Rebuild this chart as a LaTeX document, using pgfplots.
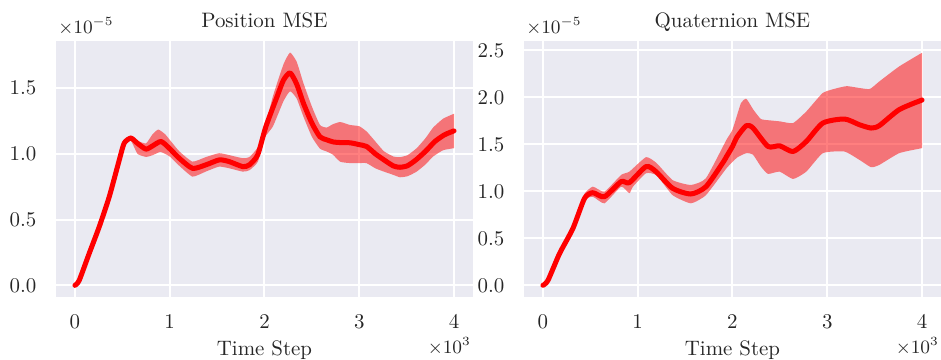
\documentclass[border=0pt]{standalone}
\usepackage{pgfplots}
\pgfplotsset{compat=1.18}
\usepgfplotslibrary{fillbetween}
\definecolor{bgc}{HTML}{EAEAF2}
\definecolor{txt}{HTML}{262626}
\pgfplotsset{mystyle/.style={
  scale only axis, width=199.4pt, height=122.4pt,
  xmin=-0.2, xmax=4.2,
  axis background/.style={fill=bgc},
  axis line style={draw=none},
  major tick style={draw=none},
  grid=major, grid style={white, line width=0.95pt},
  xtick={0,1,2,3,4},
  scaled ticks=false,
  y tick label style={/pgf/number format/fixed, /pgf/number format/fixed zerofill, /pgf/number format/precision=1, xshift=-5.9pt},
  x tick label style={yshift=-5.3pt},
  tick label style={text=txt},
}}
\begin{document}
\begin{tikzpicture}
% ---------------- Position MSE ----------------
\begin{axis}[mystyle, name=L, at={(26.78pt,30.13pt)}, anchor=south west,
  ymin=-0.0885, ymax=1.858, ytick={0,0.5,1.0,1.5}]
\addplot[name path=up, draw=none, smooth, tension=0.3] coordinates {
(0,0) (0.15,0.242) (0.36,0.674) (0.47,0.96) (0.52,1.09) (0.59,1.14) (0.66,1.10) (0.75,1.08) (0.82,1.15) (0.88,1.185) (0.95,1.15) (1.0,1.107) (1.1,1.02) (1.24,0.941) (1.38,0.975) (1.52,1.005) (1.63,0.99) (1.77,0.967) (1.84,0.975) (1.93,1.05) (2.0,1.19) (2.09,1.44) (2.2,1.68) (2.27,1.77) (2.34,1.70) (2.41,1.54) (2.5,1.36) (2.585,1.22) (2.656,1.20) (2.72,1.225) (2.80,1.242) (2.90,1.22) (3.0,1.21) (3.078,1.17) (3.17,1.094) (3.26,1.02) (3.36,0.98) (3.43,0.975) (3.51,0.99) (3.606,1.043) (3.70,1.12) (3.78,1.20) (3.886,1.268) (4.0,1.305)};
\addplot[name path=lo, draw=none, smooth, tension=0.3] coordinates {
(0,0) (0.15,0.242) (0.36,0.674) (0.47,0.95) (0.52,1.075) (0.59,1.10) (0.66,1.00) (0.75,0.977) (0.82,0.99) (0.90,1.015) (0.95,1.00) (1.0,0.98) (1.1,0.91) (1.24,0.827) (1.38,0.865) (1.52,0.903) (1.63,0.89) (1.77,0.865) (1.84,0.875) (1.93,0.94) (2.0,1.12) (2.09,1.21) (2.2,1.40) (2.27,1.476) (2.34,1.42) (2.41,1.285) (2.5,1.13) (2.585,1.04) (2.656,1.018) (2.72,0.995) (2.80,0.94) (2.90,0.93) (3.0,0.93) (3.078,0.929) (3.17,0.89) (3.26,0.865) (3.36,0.84) (3.43,0.822) (3.51,0.83) (3.606,0.865) (3.70,0.92) (3.78,0.98) (3.886,1.028) (4.0,1.043)};
\addplot[fill=red, fill opacity=0.5, draw=none] fill between[of=up and lo];
\addplot[red, line width=2.4pt, line cap=round, line join=round, smooth, tension=0.4] coordinates {
(0,0) (0.045,0.038) (0.15,0.242) (0.256,0.445) (0.362,0.674) (0.468,0.954) (0.52,1.082) (0.591,1.12) (0.66,1.08) (0.749,1.036) (0.82,1.061) (0.908,1.094) (0.995,1.043) (1.1,0.967) (1.24,0.89) (1.38,0.916) (1.523,0.954) (1.628,0.941) (1.77,0.903) (1.84,0.916) (1.928,0.992) (2.015,1.208) (2.13,1.43) (2.2,1.56) (2.27,1.616) (2.34,1.53) (2.41,1.387) (2.5,1.234) (2.585,1.13) (2.656,1.107) (2.73,1.09) (2.80,1.086) (2.905,1.084) (3.0,1.07) (3.078,1.056) (3.17,1.00) (3.255,0.957) (3.36,0.908) (3.43,0.898) (3.51,0.91) (3.60,0.955) (3.70,1.02) (3.80,1.095) (3.90,1.145) (4.0,1.175)};
\end{axis}
% ---------------- Quaternion MSE ----------------
\begin{axis}[mystyle, name=R, at={(250.58pt,30.13pt)}, anchor=south west,
  ymin=-0.124, ymax=2.6, ytick={0,0.5,1.0,1.5,2.0,2.5}]
\addplot[name path=up, draw=none, smooth, tension=0.3] coordinates {
(0,0) (0.175,0.338) (0.316,0.605) (0.43,0.96) (0.526,1.05) (0.649,0.997) (0.825,1.175) (0.912,1.21) (1.088,1.364) (1.20,1.30) (1.368,1.12) (1.561,1.068) (1.72,1.14) (1.937,1.55) (2.0,1.656) (2.09,1.94) (2.147,1.984) (2.22,1.87) (2.30,1.77) (2.40,1.755) (2.50,1.745) (2.639,1.727) (2.779,1.85) (2.954,2.048) (3.11,2.10) (3.21,2.12) (3.34,2.10) (3.45,2.09) (3.55,2.17) (3.76,2.33) (4.0,2.475)};
\addplot[name path=lo, draw=none, smooth, tension=0.3] coordinates {
(0,0) (0.175,0.338) (0.316,0.605) (0.43,0.90) (0.526,0.943) (0.649,0.873) (0.825,1.05) (0.912,0.98) (0.95,1.05) (1.088,1.193) (1.20,1.17) (1.368,0.96) (1.561,0.873) (1.72,0.96) (1.937,1.246) (2.049,1.36) (2.147,1.407) (2.217,1.39) (2.30,1.264) (2.375,1.186) (2.498,1.21) (2.639,1.132) (2.779,1.21) (2.954,1.407) (3.182,1.424) (3.34,1.335) (3.463,1.257) (3.55,1.282) (3.76,1.407) (4.0,1.46)};
\addplot[fill=red, fill opacity=0.5, draw=none] fill between[of=up and lo];
\addplot[red, line width=2.4pt, line cap=round, line join=round, smooth, tension=0.4] coordinates {
(0,0) (0.053,0.053) (0.175,0.338) (0.316,0.605) (0.439,0.926) (0.526,0.986) (0.649,0.943) (0.825,1.104) (0.912,1.093) (1.088,1.264) (1.193,1.21) (1.368,1.033) (1.561,0.972) (1.72,1.05) (1.895,1.30) (1.937,1.37) (2.0,1.478) (2.049,1.58) (2.147,1.70) (2.217,1.674) (2.375,1.478) (2.498,1.485) (2.639,1.424) (2.779,1.531) (2.954,1.727) (3.182,1.77) (3.34,1.709) (3.463,1.674) (3.55,1.70) (3.76,1.87) (4.0,1.972)};
\end{axis}
% ---------------- annotations ----------------
\foreach \A/\T in {L/Position MSE, R/Quaternion MSE}{
  \node[anchor=base, text=txt, inner sep=0] at ([yshift=6.5pt]\A.north) {\T};
  \node[anchor=base west, text=txt, inner sep=0, font=\fontsize{9}{11}\selectfont] at ([xshift=0.9pt, yshift=3.7pt]\A.north west) {$\times10^{-5}$};
  \node[anchor=base, text=txt, inner sep=0] at ([yshift=-28.2pt]\A.south) {Time Step};
  \node[anchor=base east, text=txt, inner sep=0, font=\fontsize{9}{11}\selectfont] at ([xshift=-0.8pt, yshift=-26.8pt]\A.south east) {$\times10^{3}$};
}
\pgfresetboundingbox
\path[use as bounding box] (0,0) rectangle (450pt,172.15pt);
\end{tikzpicture}
\end{document}
